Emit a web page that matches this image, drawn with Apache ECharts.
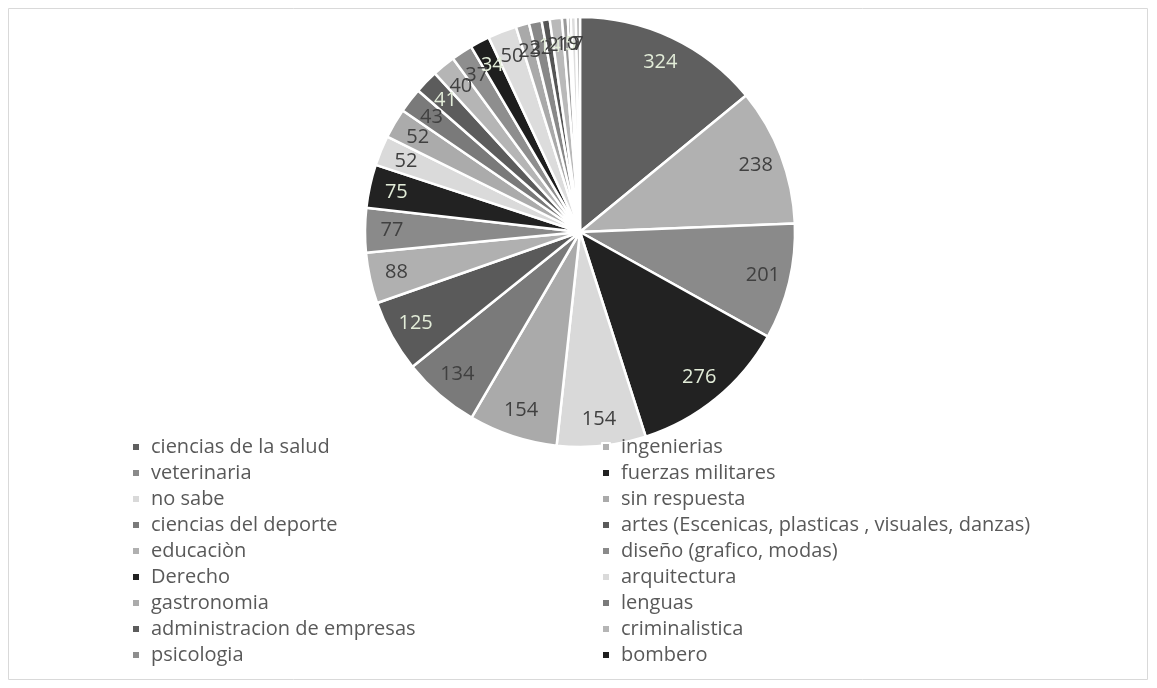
<!DOCTYPE html>
<html><head><meta charset="utf-8">
<script src="https://cdn.jsdelivr.net/npm/echarts@6/dist/echarts.min.js"></script>
<style>html,body{margin:0;padding:0;background:#fff}#c{width:1157px;height:688px}</style>
</head><body><div id="c"></div>
<script>
const categories = [
  "ciencias de la salud","ingenierias","veterinaria","fuerzas militares",
  "no sabe","sin respuesta","ciencias del deporte","artes (Escenicas, plasticas , visuales, danzas)",
  "educaciòn","diseño (grafico, modas)","Derecho","arquitectura",
  "gastronomia","lenguas","administracion de empresas","criminalistica",
  "psicologia","bombero",
  "otra 19","otra 20","otra 21","otra 22","otra 23","otra 24","otra 25","otra 26","otra 27"
];
const values = [324,238,201,276,154,154,134,125,88,77,75,52,52,43,41,40,37,34,50,23,22,14,21,10,5,9,7];
const colors = ["#5f5f5f","#b1b1b1","#8a8a8a","#222222","#d9d9d9","#aaaaaa","#7a7a7a","#5a5a5a",
  "#b0b0b0","#8a8a8a","#222222","#dadada","#ababab","#7a7a7a","#5c5c5c","#b5b5b5","#8e8e8e","#1e1e1e",
  "#dcdcdc","#a9a9a9","#888888","#555555","#b9b9b9","#999999","#222222","#dddddd","#aaaaaa"];
const legendCount = 18;

const chart = echarts.init(document.getElementById('c'), null, {renderer:'canvas'});
const data = categories.map((n,i)=>({name:n, value:values[i], itemStyle:{color:colors[i]}}));
const isDark = c => parseInt(c.slice(1,3),16) < 0x62;
const labelData = categories.map((n,i)=>({name:n, value:values[i],
  label:{color: isDark(colors[i]) ? '#e2ecd8' : '#404040'}}));
const leftNames = categories.slice(0,legendCount).filter((_,i)=>i%2===0);
const rightNames = categories.slice(0,legendCount).filter((_,i)=>i%2===1);
const legendCommon = {orient:'vertical', icon:'rect', itemWidth:8, itemHeight:8, itemGap:6,
  textStyle:{fontFamily:'Open Sans', fontSize:20, color:'#595959', lineHeight:20, padding:[0,0,0,6]},
  selectedMode:false};
chart.setOption({
  animation:false,
  color: colors,
  graphic:[{type:'rect', shape:{x:8.5,y:8.5,width:1139,height:671}, style:{fill:'none', stroke:'#d9d9d9', lineWidth:1}, silent:true}],
  legend:[
    Object.assign({left:126, top:432, data:leftNames}, legendCommon),
    Object.assign({left:596, top:432, data:rightNames}, legendCommon)
  ],
  series:[
    {type:'pie', center:[580,232], radius:[0,215], startAngle:90, clockwise:true,
     avoidLabelOverlap:false, label:{show:false}, labelLine:{show:false},
     itemStyle:{borderColor:'#fff', borderWidth:2.5}, data:data},
    {type:'pie', center:[580,232], radius:[155,215], startAngle:90, clockwise:true, silent:true,
     avoidLabelOverlap:false, labelLine:{show:false}, labelLayout:{hideOverlap:false},
     minShowLabelAngle:0,
     itemStyle:{color:'rgba(0,0,0,0)', borderWidth:0},
     label:{show:true, position:'inside', formatter:'{c}', fontFamily:'Open Sans', fontSize:20, overflow:'none'},
     data:labelData, legendHoverLink:false}
  ]
});
</script></body></html>
